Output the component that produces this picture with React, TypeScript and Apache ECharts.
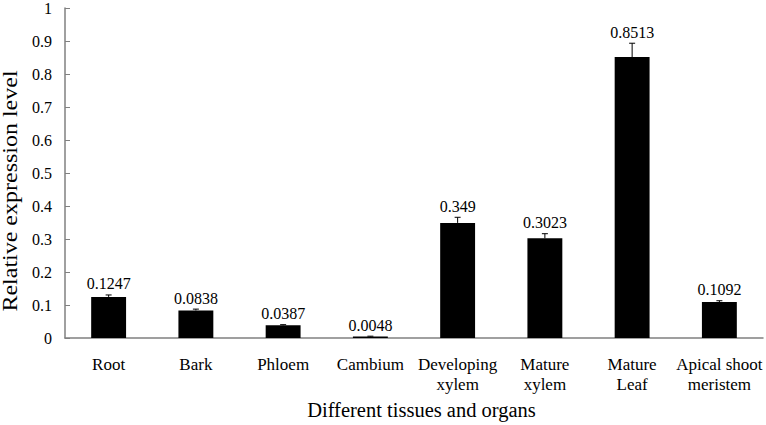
import React, { useEffect, useRef } from "react";
import * as echarts from "echarts";

const categories = [
  "Root",
  "Bark",
  "Phloem",
  "Cambium",
  "Developing\nxylem",
  "Mature\nxylem",
  "Mature\nLeaf",
  "Apical shoot\nmeristem",
];
const values = [0.1247, 0.0838, 0.0387, 0.0048, 0.349, 0.3023, 0.8513, 0.1092];
const valueLabels = ["0.1247", "0.0838", "0.0387", "0.0048", "0.349", "0.3023", "0.8513", "0.1092"];
const errors = [0.006, 0.004, 0.002, 0.001, 0.017, 0.014, 0.042, 0.004];
const yTicks = ["0", "0.1", "0.2", "0.3", "0.4", "0.5", "0.6", "0.7", "0.8", "0.9", "1"];
const yTitle = "Relative expression level";
const xTitle = "Different tissues and organs";

const FONT = "Liberation Serif";

export default function App() {
  const ref = useRef<HTMLDivElement>(null);
  useEffect(() => {
    if (!ref.current) return;
    const chart = echarts.init(ref.current, undefined, { renderer: "svg" });
    chart.setOption({
      animation: false,
      textStyle: { fontFamily: FONT },
      grid: { left: 65, right: 3, top: 6, bottom: 86 },
      graphic: [
        {
          type: "text",
          x: 10,
          y: 191,
          rotation: Math.PI / 2,
          scaleX: 1.2,
          style: {
            text: yTitle,
            fontFamily: FONT,
            fontSize: 20,
            fill: "#000",
            align: "center",
            verticalAlign: "middle",
          },
        },
      ],
      xAxis: {
        type: "category",
        data: categories,
        name: xTitle,
        nameLocation: "middle",
        nameGap: 54,
        nameTextStyle: {
          fontFamily: FONT,
          fontSize: 20.5,
          color: "#000",
          padding: [0, 0, 0, 15],
        },
        axisLine: { lineStyle: { color: "#808080", width: 1.5 } },
        axisTick: { inside: true, length: 5, lineStyle: { color: "#808080" } },
        axisLabel: {
          fontFamily: FONT,
          fontSize: 17,
          color: "#000",
          margin: 16,
          lineHeight: 20,
          interval: 0,
        },
      },
      yAxis: {
        type: "value",
        min: 0,
        max: 1,
        interval: 0.1,
        axisLine: { show: true, lineStyle: { color: "#808080", width: 1.5 } },
        axisTick: { show: true, inside: true, length: 5, lineStyle: { color: "#808080" } },
        splitLine: { show: false },
        axisLabel: {
          fontFamily: FONT,
          fontSize: 16,
          color: "#000",
          margin: 13,
          formatter: (v: number) => {
            const i = Math.round(v * 10);
            return yTicks[i] ?? String(v);
          },
        },
      },
      series: [
        {
          type: "bar",
          data: values,
          barWidth: "40%",
          itemStyle: { color: "#000" },
        },
        {
          type: "custom",
          data: values.map((v, i) => [i, v, errors[i]]),
          renderItem: (params: any, api: any) => {
            const i = api.value(0);
            const v = api.value(1);
            const e = api.value(2);
            const base = api.coord([i, v]);
            const top = api.coord([i, v + e]);
            const cap = 3;
            return {
              type: "group",
              children: [
                {
                  type: "line",
                  shape: { x1: base[0], y1: base[1], x2: top[0], y2: top[1] },
                  style: { stroke: "#000", lineWidth: 1 },
                },
                {
                  type: "line",
                  shape: { x1: top[0] - cap, y1: top[1], x2: top[0] + cap, y2: top[1] },
                  style: { stroke: "#000", lineWidth: 1 },
                },
                {
                  type: "text",
                  x: top[0],
                  y: top[1] - 3,
                  style: {
                    text: valueLabels[params.dataIndex],
                    fontFamily: FONT,
                    fontSize: 16,
                    fill: "#000",
                    align: "center",
                    verticalAlign: "bottom",
                  },
                },
              ],
            };
          },
          z: 5,
        },
      ],
    });
    return () => chart.dispose();
  }, []);
  return (
    <div
      ref={ref}
      style={{ position: "absolute", left: 0, top: 0, width: 766, height: 425 }}
    />
  );
}
